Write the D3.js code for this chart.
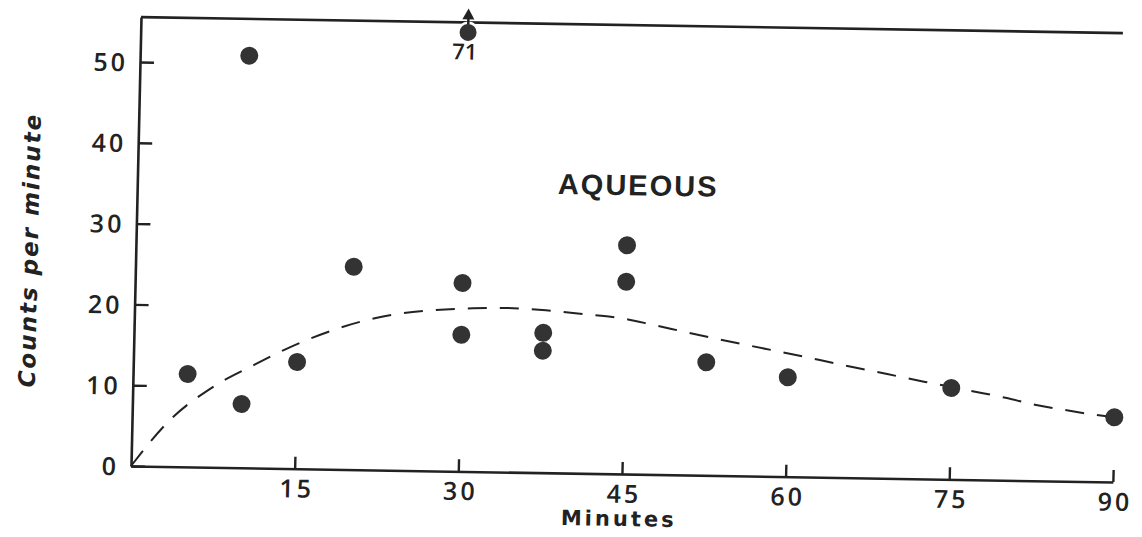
<!DOCTYPE html>
<html>
<head>
<meta charset="utf-8">
<script src="https://cdn.jsdelivr.net/npm/d3@7"></script>
<style>
  body { margin: 0; background: #fff; }
  svg { display: block; }
</style>
</head>
<body>
<script>
// points (minutes, counts per minute)
var minutes = [5, 10, 15, 20, 30, 30, 37.5, 37.5, 45, 45, 52.5, 60, 75, 90, 10];
var counts  = [11.5, 7.9, 13.2, 25.1, 23.3, 16.9, 17.3, 15.1, 28.3, 23.8, 14.0, 12.3, 11.3, 8.0, 51.0];

// off-scale point, drawn pinned at the top with an arrow
var offMinute = 30;
var offCount = 71;

// dashed fitted curve
var curveMinutes = [0, 3.5, 7.3, 11, 14.3, 18.2, 20.7, 24.3, 27.5, 31, 34.2, 37.7, 41.1, 44.5, 47.6, 50.5, 53.1, 56.2, 59.4, 62.9, 65.9, 69.1, 72.6, 77.2, 80, 82.7, 85.5, 88.1, 90];
var curveCounts  = [0, 5.8, 9.9, 12.7, 15.0, 17.2, 18.3, 19.4, 19.9, 20.2, 20.3, 20.1, 19.7, 19.3, 18.5, 17.7, 17.0, 16.2, 15.4, 14.5, 13.7, 12.9, 12.0, 10.9, 10.2, 9.4, 8.8, 8.3, 8.0];

var xTicks = [15, 30, 45, 60, 75, 90];
var yTicks = [0, 10, 20, 30, 40, 50];
var yTop = 55.55;

var W = 1142, H = 537;
var svg = d3.select('body').append('svg').attr('width', W).attr('height', H);

// the scan is a little crooked, so the plot frame is tilted to match
var a = 0.0163, b = 0.0223;
var g = svg.append('g')
  .attr('transform', 'matrix(' + [Math.cos(a), Math.sin(a), -Math.sin(b), Math.cos(b), 131, 466].join(',') + ')');

var x = d3.scaleLinear().domain([0, 90]).range([0, 982]);
var y = d3.scaleLinear().domain([0, yTop]).range([0, -449]);

var ink = '#222';
var tickFont = '"DejaVu Sans", sans-serif';
var numFont = '"Open Sans", "DejaVu Sans", sans-serif';

// x axis, ticks pointing up into the plot
var xAxis = g.append('g')
  .call(d3.axisBottom(x).tickValues(xTicks).tickSize(-12).tickSizeOuter(0).tickPadding(11));
// y axis, ticks pointing right
var yAxis = g.append('g')
  .call(d3.axisLeft(y).tickValues(yTicks).tickSize(-14).tickSizeOuter(0).tickPadding(12));

[xAxis, yAxis].forEach(ax => {
  ax.select('.domain').attr('stroke', ink).attr('stroke-width', 2.6);
  ax.selectAll('.tick line').attr('stroke', ink).attr('stroke-width', 2.4);
  ax.selectAll('.tick text')
    .attr('fill', ink)
    .style('font-family', numFont)
    .style('font-weight', 600)
    .style('font-size', '25px')
    .style('letter-spacing', '3px');
});
xAxis.selectAll('.tick text').attr('dx', '2px');
yAxis.selectAll('.tick text').attr('dy', '0.36em');

// top edge of the frame
g.append('line')
  .attr('x1', x(0)).attr('x2', x(90))
  .attr('y1', y(yTop)).attr('y2', y(yTop))
  .attr('stroke', ink).attr('stroke-width', 2.6);

// dashed curve
var curvePts = curveMinutes.map((m, i) => [m, curveCounts[i]]);
g.append('path')
  .datum(curvePts)
  .attr('fill', 'none')
  .attr('stroke', ink)
  .attr('stroke-width', 2)
  .attr('stroke-dasharray', '19,13')
  .attr('d', d3.line().x(d => x(d[0])).y(d => y(d[1])).curve(d3.curveMonotoneX));

// data points
var pts = minutes.map((m, i) => ({m: m, v: counts[i]}));
g.selectAll('circle.pt')
  .data(pts)
  .enter().append('circle')
  .attr('class', 'pt')
  .attr('cx', d => x(d.m))
  .attr('cy', d => y(d.v))
  .attr('r', 9)
  .attr('fill', '#333');

// off-scale point, sits on the top line
var offY = y(yTop) + 10;
g.append('circle')
  .attr('cx', x(offMinute)).attr('cy', offY)
  .attr('r', 9)
  .attr('fill', '#333')
  .attr('stroke', '#fff').attr('stroke-width', 4);
g.append('circle')
  .attr('cx', x(offMinute)).attr('cy', offY)
  .attr('r', 8.5)
  .attr('fill', '#333');
g.append('line')
  .attr('x1', x(offMinute)).attr('x2', x(offMinute))
  .attr('y1', offY - 8).attr('y2', offY - 16)
  .attr('stroke', ink).attr('stroke-width', 2.5);
g.append('path')
  .attr('d', 'M' + (x(offMinute) - 6) + ',' + (offY - 13) + 'L' + x(offMinute) + ',' + (offY - 24) + 'L' + (x(offMinute) + 6) + ',' + (offY - 13) + 'Z')
  .attr('fill', ink);
g.append('text')
  .attr('x', x(offMinute) - 3)
  .attr('y', offY + 27)
  .attr('text-anchor', 'middle')
  .style('font-family', numFont)
  .style('font-weight', 600)
  .style('font-size', '22px')
  .attr('fill', ink)
  .text(offCount);

// labels
g.append('text')
  .attr('x', x(44.8))
  .attr('y', 52)
  .attr('text-anchor', 'middle')
  .style('font-family', tickFont)
  .style('font-weight', 'bold')
  .style('font-size', '21px')
  .style('letter-spacing', '3px')
  .attr('fill', ink)
  .text('Minutes');

g.append('text')
  .attr('x', x(45.9))
  .attr('y', y(34.5))
  .attr('text-anchor', 'middle')
  .style('font-family', '"Liberation Sans", Arial, sans-serif')
  .style('font-weight', 'bold')
  .style('font-size', '29px')
  .style('letter-spacing', '2px')
  .attr('fill', ink)
  .text('AQUEOUS');

g.append('text')
  .attr('transform', 'translate(-98,' + y(26.5) + ') rotate(-90)')
  .attr('text-anchor', 'middle')
  .style('font-family', tickFont)
  .style('font-style', 'italic')
  .style('font-weight', 'bold')
  .style('font-size', '23px')
  .style('letter-spacing', '2px')
  .attr('fill', ink)
  .text('Counts per minute');
</script>
</body>
</html>
